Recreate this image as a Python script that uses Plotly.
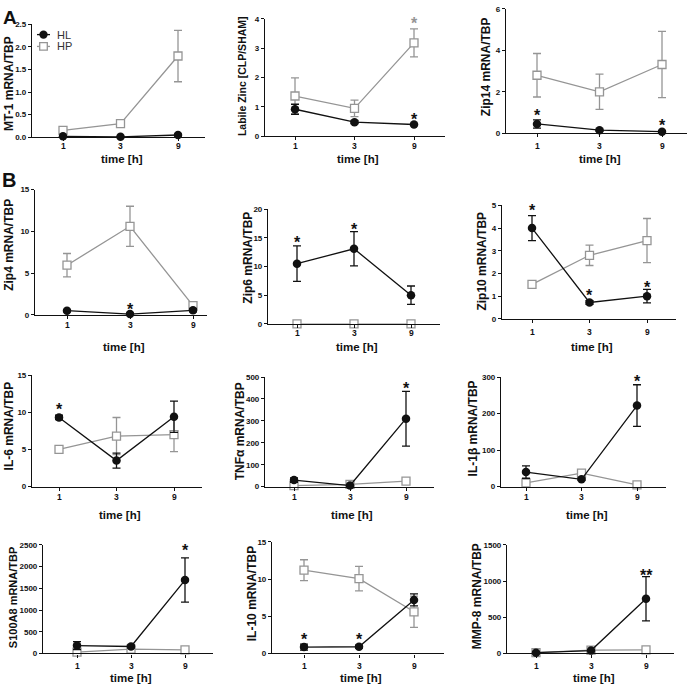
import plotly.graph_objects as go

W, H = 695, 691

time_labels = ["1", "3", "9"]

# ---- data (mean, error) per panel ----
titles = ["MT-1 mRNA/TBP", "Labile Zinc [CLP/SHAM]", "Zip14 mRNA/TBP",
          "Zip4 mRNA/TBP", "Zip6 mRNA/TBP", "Zip10 mRNA/TBP",
          "IL-6 mRNA/TBP", "TNF\u03b1 mRNA/TBP", "IL-1\u03b2 mRNA/TBP",
          "S100A8 mRNA/TBP", "IL-10 mRNA/TBP", "MMP-8 mRNA/TBP"]

hl_mt1 = [0.02, 0.01, 0.05];        hl_mt1_err = [0.01, 0.005, 0.01]
hp_mt1 = [0.15, 0.30, 1.80];        hp_mt1_err = [0.03, 0.03, 0.57]
hl_zinc = [0.92, 0.48, 0.40];       hl_zinc_err = [0.17, 0.05, 0.03]
hp_zinc = [1.37, 0.95, 3.18];       hp_zinc_err = [0.62, 0.28, 0.48]
hl_zip14 = [0.45, 0.15, 0.08];      hl_zip14_err = [0.20, 0.05, 0.05]
hp_zip14 = [2.80, 2.00, 3.32];      hp_zip14_err = [1.05, 0.85, 1.60]
hl_zip4 = [0.50, 0.10, 0.55];       hl_zip4_err = [0.10, 0.05, 0.20]
hp_zip4 = [5.95, 10.6, 1.10];       hp_zip4_err = [1.40, 2.40, 0.50]
hl_zip6 = [10.5, 13.1, 5.0];        hl_zip6_err = [3.1, 3.0, 1.6]
hp_zip6 = [0.0, 0.0, 0.0];          hp_zip6_err = [0.0, 0.0, 0.0]
hl_zip10 = [4.0, 0.72, 1.0];        hl_zip10_err = [0.55, 0.08, 0.30]
hp_zip10 = [1.52, 2.80, 3.45];      hp_zip10_err = [0.05, 0.45, 0.97]
hl_il6 = [9.3, 3.5, 9.4];           hl_il6_err = [0.3, 1.0, 2.1]
hp_il6 = [5.0, 6.8, 7.0];           hp_il6_err = [0.5, 2.5, 2.3]
hl_tnf = [30, 5, 310];              hl_tnf_err = [10, 3, 125]
hp_tnf = [5, 10, 25];               hp_tnf_err = [2, 3, 3]
hl_il1b = [40, 20, 222];            hl_il1b_err = [17, 3, 57]
hp_il1b = [10, 37, 5];              hp_il1b_err = [10, 5, 2]
hl_s100 = [180, 160, 1690];         hl_s100_err = [90, 30, 510]
hp_s100 = [30, 100, 80];            hp_s100_err = [10, 15, 10]
hl_il10 = [0.85, 0.90, 7.2];        hl_il10_err = [0.4, 0.2, 0.8]
hp_il10 = [11.2, 10.05, 5.6];       hp_il10_err = [1.4, 1.65, 2.1]
hl_mmp8 = [10, 40, 755];            hl_mmp8_err = [15, 10, 305]
hp_mmp8 = [10, 45, 50];             hp_mmp8_err = [5, 8, 5]

hl_all = [(hl_mt1, hl_mt1_err), (hl_zinc, hl_zinc_err), (hl_zip14, hl_zip14_err),
          (hl_zip4, hl_zip4_err), (hl_zip6, hl_zip6_err), (hl_zip10, hl_zip10_err),
          (hl_il6, hl_il6_err), (hl_tnf, hl_tnf_err), (hl_il1b, hl_il1b_err),
          (hl_s100, hl_s100_err), (hl_il10, hl_il10_err), (hl_mmp8, hl_mmp8_err)]
hp_all = [(hp_mt1, hp_mt1_err), (hp_zinc, hp_zinc_err), (hp_zip14, hp_zip14_err),
          (hp_zip4, hp_zip4_err), (hp_zip6, hp_zip6_err), (hp_zip10, hp_zip10_err),
          (hp_il6, hp_il6_err), (hp_tnf, hp_tnf_err), (hp_il1b, hp_il1b_err),
          (hp_s100, hp_s100_err), (hp_il10, hp_il10_err), (hp_mmp8, hp_mmp8_err)]

series_names = ["HL", "HP"]

# y axis max and tick step
y_max = [2.5, 4, 6, 15, 20, 5, 15, 500, 300, 2500, 15, 1500]
y_step = [0.5, 1, 2, 5, 5, 1, 5, 100, 100, 500, 5, 500]
y_fmt = [".1f", "d", "d", "d", "d", "d", "d", "d", "d", "d", "d", "d"]

# significance stars: (panel index, time label, y value, text, series)
stars = [(0, "9", 2.55, "*", "HP"),
         (1, "9", 3.97, "*", "HP"), (1, "9", 0.71, "*", "HL"),
         (2, "1", 1.05, "*", "HL"), (2, "9", 0.56, "*", "HL"),
         (3, "3", 1.18, "*", "HL"),
         (4, "1", 14.9, "*", "HL"), (4, "3", 17.1, "*", "HL"),
         (5, "1", 4.93, "*", "HL"), (5, "3", 1.19, "*", "HL"), (5, "9", 1.57, "*", "HL"),
         (6, "1", 10.9, "*", "HL"),
         (7, "9", 465, "*", "HL"),
         (8, "9", 299, "*", "HL"),
         (9, "9", 2455, "*", "HL"),
         (10, "1", 2.4, "*", "HL"), (10, "3", 2.4, "*", "HL"),
         (11, "9", 1132, "**", "HL")]

# ---- layout geometry (pixels): y-axis x, axis end x, first cat x, last cat x, ytop, ybottom
geom = [(32, 205, 63, 178, 20.7, 135), (265, 445, 295, 414, 15, 134), (506, 687, 537, 662, 5, 131),
        (35, 207, 67, 193, 188, 315), (268, 440, 297, 411, 208, 324), (502, 676, 532, 647, 204, 319),
        (32, 202, 59, 174, 376, 489), (265, 434, 294, 406, 378, 489), (501, 666, 526, 637, 378, 489),
        (43, 213, 77, 185, 548, 658), (272, 444, 304, 414, 545, 658), (507, 674, 536, 646, 548, 658)]
xlabel_y = [144, 144, 144, 325, 333, 332, 500, 500, 500, 671, 671, 671]
ytitle_x = [9, 242, 486, 9, 248, 482, 9, 240, 473, 13, 252, 477]
ytitle_y = [81, 73, 64, 244, 257, 260, 428, 433, 430, 602, 598, 600]
ytitle_size = [12, 10.5, 12, 12, 12, 12, 12, 12, 12, 11, 12, 12]
xtitle_y = [157, 157, 157, 348, 348, 348, 518, 518, 518, 683, 683, 683]

BLACK = "#111111"
GRAY = "#959595"
FONT = "Liberation Sans"

fig = go.Figure()
annotations = []
shapes = []

for i in range(12):
    xa = "x" if i == 0 else f"x{i+1}"
    ya = "y" if i == 0 else f"y{i+1}"
    hp, hpe = hp_all[i]
    hl, hle = hl_all[i]
    fig.add_trace(go.Scatter(
        x=time_labels, y=hp, xaxis=xa, yaxis=ya, name="HP", mode="lines+markers",
        line=dict(color=GRAY, width=1.3),
        marker=dict(symbol="square", size=8, color="white", line=dict(color=GRAY, width=1.3)),
        error_y=dict(type="data", array=hpe, color=GRAY, thickness=1.3, width=4),
        cliponaxis=False, showlegend=False))
    fig.add_trace(go.Scatter(
        x=time_labels, y=hl, xaxis=xa, yaxis=ya, name="HL", mode="lines+markers",
        line=dict(color=BLACK, width=1.3),
        marker=dict(symbol="circle", size=8.5, color=BLACK),
        error_y=dict(type="data", array=hle, color=BLACK, thickness=1.3, width=4),
        cliponaxis=False, showlegend=False))

    x0, x1, c1, c9, yt, yb = geom[i]
    s = (c9 - c1) / (len(time_labels) - 1)
    rlo = -(c1 - x0) / s
    rhi = (len(time_labels) - 1) + (x1 - c9) / s
    kx = "xaxis" if i == 0 else f"xaxis{i+1}"
    ky = "yaxis" if i == 0 else f"yaxis{i+1}"
    nt = int(round(y_max[i] / y_step[i]))
    tv = [y_step[i] * k for k in range(nt + 1)]
    tt = [format(v, y_fmt[i]) if y_fmt[i] != "d" else str(int(round(v))) for v in tv]
    fig.layout[kx] = dict(domain=[x0 / W, x1 / W], anchor=ya, type="category",
                          range=[rlo, rhi], showline=True, linecolor=BLACK, linewidth=1.2,
                          ticks="outside", ticklen=3, tickwidth=1.2, tickcolor=BLACK,
                          showticklabels=False, showgrid=False, zeroline=False)
    fig.layout[ky] = dict(domain=[1 - yb / H, 1 - yt / H], anchor=xa,
                          range=[0, y_max[i]], tickvals=tv, ticktext=tt,
                          showline=True, linecolor=BLACK, linewidth=1.2,
                          ticks="outside", ticklen=3, tickwidth=1.2, tickcolor=BLACK,
                          showgrid=False, zeroline=False,
                          tickfont=dict(family=FONT, size=8, color=BLACK, weight="bold"))
    # x tick labels (placed per panel as in the reference)
    for k, lab in enumerate(time_labels):
        annotations.append(dict(xref=xa, yref="paper", x=k, y=1 - xlabel_y[i] / H, text=lab,
                                showarrow=False, xanchor="center", yanchor="middle",
                                font=dict(family=FONT, size=8.5, color=BLACK, weight="bold")))
    # y title
    annotations.append(dict(xref="paper", yref="paper", x=ytitle_x[i] / W,
                            y=1 - ytitle_y[i] / H, text=titles[i], textangle=-90,
                            showarrow=False, xanchor="center", yanchor="middle",
                            font=dict(family=FONT, size=ytitle_size[i], color=BLACK, weight="bold")))
    # x title
    annotations.append(dict(xref="paper", yref="paper", x=((x0 + x1) / 2 + 3) / W,
                            y=1 - xtitle_y[i] / H, text="time [h]", showarrow=False,
                            xanchor="center", yanchor="middle",
                            font=dict(family=FONT, size=11.5, color=BLACK, weight="bold")))

for (pi, tl, yv, txt, ser) in stars:
    xa = "x" if pi == 0 else f"x{pi+1}"
    ya = "y" if pi == 0 else f"y{pi+1}"
    annotations.append(dict(xref=xa, yref=ya, x=time_labels.index(tl), y=yv, text=txt,
                            showarrow=False, xanchor="center", yanchor="middle", yshift=-4,
                            font=dict(family=FONT, size=16, color=(GRAY if ser == "HP" else BLACK),
                                      weight="bold")))

annotations.append(dict(xref="paper", yref="paper", x=1 / W, y=1 - 14 / H, text="A",
                        showarrow=False, xanchor="left", yanchor="middle",
                        font=dict(family=FONT, size=19, color=BLACK, weight="bold")))
annotations.append(dict(xref="paper", yref="paper", x=0 / W, y=1 - 178 / H, text="B",
                        showarrow=False, xanchor="left", yanchor="middle",
                        font=dict(family=FONT, size=20, color=BLACK, weight="bold")))

# ---- manual legend (decoration in paper pixels) ----
leg_y = [31, 43]
leg_col = [BLACK, GRAY]
for k, name in enumerate(series_names):
    yy = 1 - leg_y[k] / H
    shapes.append(dict(type="line", xref="paper", yref="paper", x0=37 / W, x1=50 / W,
                       y0=yy, y1=yy, line=dict(color=leg_col[k], width=1.3)))
    r = 4.2 if k == 0 else 3.8
    if k == 0:
        shapes.append(dict(type="circle", xref="paper", yref="paper",
                           x0=(43.5 - r) / W, x1=(43.5 + r) / W,
                           y0=1 - (leg_y[k] + r) / H, y1=1 - (leg_y[k] - r) / H,
                           fillcolor=BLACK, line=dict(color=BLACK, width=0)))
    else:
        shapes.append(dict(type="rect", xref="paper", yref="paper",
                           x0=(43.5 - r) / W, x1=(43.5 + r) / W,
                           y0=1 - (leg_y[k] + r) / H, y1=1 - (leg_y[k] - r) / H,
                           fillcolor="white", line=dict(color=GRAY, width=1.3)))
    annotations.append(dict(xref="paper", yref="paper", x=55 / W, y=yy, text=name,
                            showarrow=False, xanchor="left", yanchor="middle",
                            font=dict(family=FONT, size=11, color="#333333")))

fig.update_layout(
    width=W, height=H, margin=dict(l=0, r=0, t=0, b=0),
    paper_bgcolor="white", plot_bgcolor="white",
    annotations=annotations, shapes=shapes, showlegend=False,
)

fig.write_html("out.html", config={"displayModeBar": False},
               post_script="document.body.style.margin='0px';document.body.style.padding='0px';")
